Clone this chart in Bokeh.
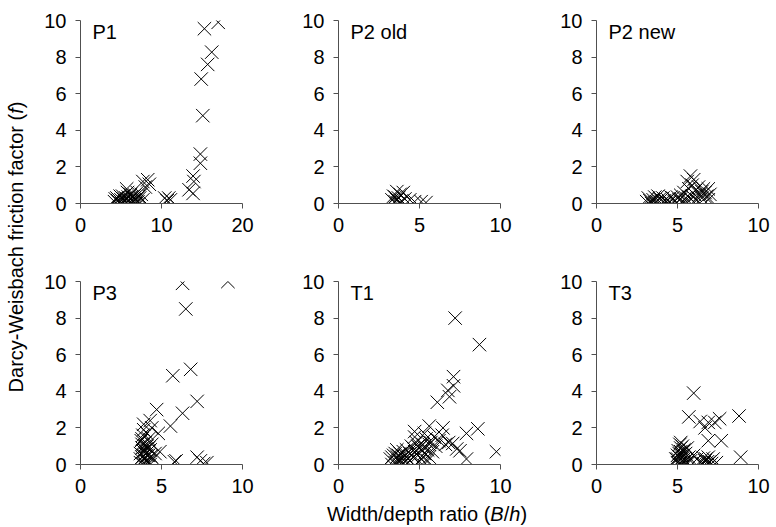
from bokeh.plotting import figure
from bokeh.models import Range1d, FixedTicker, Label, Div
from bokeh.layouts import row, column
from bokeh.embed import file_html
from bokeh.resources import INLINE

FONT = "Liberation Sans"
AXIS_COLOR = "#505050"

# ---------------- data ----------------
y_ticks = [0, 2, 4, 6, 8, 10]

p1_x = [17.0, 15.3, 16.2, 15.7, 14.9, 15.1, 14.8, 14.8, 13.9, 14.0, 13.4, 13.9,
        7.7, 8.3, 8.5, 8.0, 10.4, 10.9, 11.1, 10.7,
        4.2, 4.5, 4.8, 5.0, 5.2, 5.4, 5.6, 5.8, 6.0, 6.1, 6.3, 6.5, 6.7, 6.9, 7.1, 7.3, 7.5, 7.7,
        4.3, 5.1, 5.5, 6.2, 6.8, 7.2, 4.6, 5.9, 6.6, 7.0, 5.3, 4.9, 5.7]
p1_y = [9.9, 9.55, 8.27, 7.6, 6.8, 4.8, 2.7, 2.2, 1.5, 1.2, 0.75, 0.55,
        1.2, 1.3, 1.05, 0.9, 0.3, 0.3, 0.2, 0.15,
        0.1, 0.3, 0.05, 0.2, 0.4, 0.1, 0.3, 0.6, 0.2, 0.05, 0.35, 0.15, 0.45, 0.25, 0.1, 0.3, 0.5, 0.2,
        0.25, 0.0, 0.15, 0.5, 0.0, 0.4, 0.15, 0.35, 0.3, 0.6, 0.25, 0.4, 0.8]

p2old_x = [3.3, 3.4, 3.5, 3.6, 3.7, 3.8, 3.9, 4.0, 3.5, 3.75, 4.1, 4.4, 4.7, 5.1, 5.4, 3.6]
p2old_y = [0.2, 0.4, 0.1, 0.65, 0.3, 0.5, 0.15, 0.6, 0.35, 0.0, 0.25, 0.2, 0.1, 0.1, 0.05, 0.2]

p2new_x = [3.1, 3.2, 3.4, 3.5, 3.6, 3.7, 3.9, 4.0, 4.1, 4.2, 4.4, 4.5, 4.7, 4.8, 5.0, 5.1,
           5.2, 5.3, 5.4, 5.5, 5.6, 5.7, 5.8, 5.9, 5.9, 6.0, 6.1, 6.2, 6.3, 6.4, 6.5, 6.6,
           6.7, 6.8, 6.9, 7.0, 6.0, 5.6, 3.8, 4.6,
           3.3, 3.6, 4.3, 5.2, 5.7, 6.1, 6.5, 6.9]
p2new_y = [0.1, 0.3, 0.0, 0.2, 0.35, 0.1, 0.25, 0.0, 0.3, 0.15, 0.2, 0.05, 0.3, 0.1, 0.35, 0.2,
           0.45, 0.1, 0.6, 0.3, 1.2, 0.8, 1.5, 1.0, 0.4, 1.3, 0.7, 0.2, 0.9, 0.5, 0.3, 0.8,
           0.6, 0.4, 0.2, 0.5, 0.1, 0.05, 0.4, 0.35,
           0.15, 0.05, 0.1, 0.25, 0.35, 0.45, 0.65, 0.8]

p3_x = [6.3, 9.1, 6.5, 6.8, 5.7, 7.2, 6.3, 5.55, 4.7, 4.3, 3.9, 4.8, 4.9, 5.8, 5.9, 7.2, 7.4, 7.8, 7.6,
        3.7, 3.8, 3.9, 4.0, 3.75, 3.85, 3.9, 4.1, 4.2, 4.3, 4.0, 4.2, 4.4, 4.5, 3.7, 3.8, 4.1, 4.0,
        3.9, 4.3, 4.6, 4.4, 3.8, 4.2, 4.1,
        3.7, 3.9, 4.0, 3.8, 4.1, 4.2, 3.85, 4.35]
p3_y = [9.9, 10.0, 8.5, 5.2, 4.85, 3.45, 2.8, 2.1, 3.0, 2.4, 2.2, 1.7, 0.7, 0.15, 0.2, 0.4, 0.2, 0.1, 0.05,
        0.1, 0.4, 0.7, 1.0, 1.3, 1.6, 1.9, 0.2, 0.5, 0.8, 1.2, 1.4, 1.1, 0.3, 0.6, 0.9, 1.7, 0.0,
        0.3, 0.0, 0.6, 2.0, 1.1, 0.9, 0.5,
        0.3, 0.5, 0.8, 1.4, 1.0, 0.15, 0.05, 0.45]

t1_x = [7.2, 8.7, 7.1, 7.1, 6.75, 6.85, 6.1, 8.6, 7.9, 9.75, 5.6, 6.45, 4.7, 7.05, 7.5, 7.9, 7.3,
        3.2, 3.4, 3.5, 3.6, 3.7, 3.8, 3.9, 4.0, 4.1, 4.2, 4.3, 4.4, 4.5, 4.6, 4.7, 4.8, 4.9, 5.0,
        5.1, 5.2, 5.3, 5.4, 5.5, 5.6, 5.7, 5.8, 5.9, 6.0, 6.2, 6.4, 6.6, 3.3, 3.9, 4.4, 5.0, 5.5,
        4.7, 3.6, 6.8, 5.3,
        3.3, 3.5, 3.7, 3.8, 4.0, 4.2, 4.6, 4.9, 5.1, 5.3, 5.6, 4.3, 4.5, 5.2]
t1_y = [8.0, 6.55, 4.8, 4.3, 4.05, 3.7, 3.4, 1.95, 1.7, 0.7, 2.1, 2.0, 1.8, 1.15, 0.75, 0.3, 0.85,
        0.3, 0.5, 0.1, 0.4, 0.2, 0.6, 0.35, 0.1, 0.5, 0.8, 0.3, 0.6, 1.0, 0.4, 0.7, 1.2, 0.5, 0.9,
        0.3, 1.1, 0.6, 1.4, 0.8, 0.4, 1.2, 0.7, 1.5, 1.0, 1.3, 1.6, 1.1, 0.0, 0.0, 0.2, 0.15, 0.2,
        1.5, 0.8, 1.2, 1.7,
        0.4, 0.6, 0.5, 0.2, 0.7, 0.4, 0.9, 1.0, 0.8, 0.9, 1.1, 0.1, 0.5, 0.4]

t3_x = [6.0, 5.7, 6.4, 6.7, 6.9, 7.3, 7.6, 8.8, 6.9, 7.7, 8.9,
        5.0, 5.1, 5.2, 5.3, 5.2, 5.4, 5.5, 5.6, 5.0, 5.1, 5.3, 5.4, 5.6, 5.7, 5.8, 6.0, 6.2, 6.4,
        6.6, 6.7, 6.8, 6.9, 7.0, 7.2, 5.2, 4.9, 6.5, 7.4,
        5.0, 5.1, 5.2, 5.3, 5.4, 5.5, 5.15, 5.35, 5.05, 5.25, 6.6, 6.75, 6.85, 7.1]
t3_y = [3.9, 2.6, 2.35, 2.0, 2.3, 2.3, 2.5, 2.65, 1.3, 1.3, 0.4,
        0.1, 0.4, 0.7, 1.0, 1.2, 0.3, 0.6, 0.9, 0.5, 0.0, 0.2, 0.8, 0.1, 0.4, 0.2, 0.5, 0.3, 0.1,
        0.35, 0.2, 0.0, 0.4, 0.15, 0.3, 0.0, 0.3, 0.05, 0.1,
        0.3, 0.6, 0.9, 0.5, 0.05, 0.2, 1.1, 0.7, 0.75, 0.35, 0.05, 0.3, 0.15, 0.05]

panel_names = ["P1", "P2 old", "P2 new", "P3", "T1", "T3"]
panel_x = [p1_x, p2old_x, p2new_x, p3_x, t1_x, t3_x]
panel_y = [p1_y, p2old_y, p2new_y, p3_y, t1_y, t3_y]
panel_xmax = [20, 10, 10, 10, 10, 10]
panel_xticks = [[0, 10, 20], [0, 5, 10], [0, 5, 10], [0, 5, 10], [0, 5, 10], [0, 5, 10]]
Y_MAX = 10

# ---------------- layout constants (pixels) ----------------
FRAME_W, FRAME_H = 162, 183
BORDER_L = [48, 48, 48]
BORDER_R = [48, 48, 12]
BORDER_TOP = 20
BORDER_BOTTOM = [58, 30]
XDIV_H = 17


def style_axis(ax, ticks):
    ax.ticker = FixedTicker(ticks=ticks)
    ax.axis_line_color = AXIS_COLOR
    ax.axis_line_width = 1
    ax.major_tick_line_color = AXIS_COLOR
    ax.minor_tick_line_color = None
    ax.major_tick_in = 0
    ax.major_tick_out = 5
    ax.major_label_text_font = FONT
    ax.major_label_text_font_size = "20px"
    ax.major_label_text_color = "black"
    ax.major_label_standoff = 9


def make_panel(i):
    r, c = divmod(i, 3)
    p = figure(frame_width=FRAME_W, frame_height=FRAME_H,
               x_range=Range1d(0, panel_xmax[i]), y_range=Range1d(0, Y_MAX),
               output_backend="svg", toolbar_location=None,
               min_border_left=BORDER_L[c], min_border_right=BORDER_R[c],
               min_border_top=BORDER_TOP, min_border_bottom=BORDER_BOTTOM[r])
    p.outline_line_color = None
    p.grid.visible = False
    p.background_fill_color = "white"
    p.border_fill_color = "white"
    style_axis(p.xaxis[0], panel_xticks[i])
    style_axis(p.yaxis[0], y_ticks)
    p.scatter(panel_x[i], panel_y[i], marker="x", size=19,
              line_color="black", line_width=1)
    p.add_layout(Label(x=12, y=FRAME_H, x_units="screen", y_units="screen",
                       text=panel_names[i], text_baseline="top", text_align="left",
                       text_font=FONT, text_font_size="20px", text_color="black"))
    return p


figs = [make_panel(i) for i in range(6)]

grid_w = sum(BORDER_L) + sum(BORDER_R) + 3 * FRAME_W
grid_h = 2 * (BORDER_TOP + FRAME_H) + sum(BORDER_BOTTOM)

ylabel_html = (
    '<div style="position:relative;width:22px;height:%dpx;">'
    '<div style="position:absolute;left:11px;top:242px;transform:translate(-50%%,-50%%) rotate(-90deg);'
    "white-space:nowrap;font-family:'Liberation Sans';font-size:20px;line-height:22px;color:black;\">"
    'Darcy-Weisbach friction factor (<i>f</i>)</div></div>' % (grid_h + XDIV_H)
)
ydiv = Div(text=ylabel_html, width=22, height=grid_h + XDIV_H)

xlabel_html = (
    '<div style="position:relative;width:%dpx;height:%dpx;overflow:visible;">'
    '<div style="position:absolute;left:390px;top:6px;transform:translateX(-50%%);'
    "white-space:nowrap;font-family:'Liberation Sans';font-size:20px;line-height:17px;color:black;\">"
    'Width/depth ratio (<i>B</i>/<i>h</i>)</div></div>' % (grid_w, XDIV_H)
)
xdiv = Div(text=xlabel_html, width=grid_w, height=XDIV_H, styles={"overflow": "visible"})

layout = row(ydiv, column(row(*figs[:3]), row(*figs[3:]), xdiv))

open("out.html", "w").write(file_html(layout, INLINE))
